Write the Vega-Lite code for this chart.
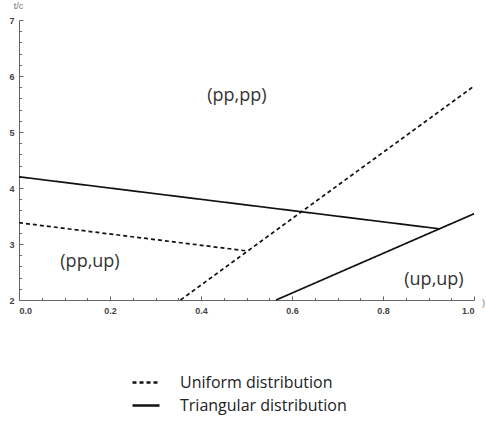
{
  "$schema": "https://vega.github.io/schema/vega-lite/v6.json",
  "width": 455,
  "height": 280,
  "autosize": {"type": "none"},
  "padding": {"left": 19, "top": 20, "right": 12, "bottom": 121},
  "background": "white",
  "config": {
    "view": {"stroke": null},
    "axis": {"grid": false, "domainColor": "#666", "tickColor": "#666", "labelColor": "#444", "labelFont": "Liberation Sans", "labelFontSize": 9, "labelFontWeight": "bold", "tickWidth": 1, "domainWidth": 1}
  },
  "datasets": {
    "curves": [
      {"series": "s1", "distribution": "Triangular distribution", "x": 0, "y": 4.2},
      {"series": "s1", "distribution": "Triangular distribution", "x": 0.925, "y": 3.27},
      {"series": "s2", "distribution": "Triangular distribution", "x": 0.565, "y": 2},
      {"series": "s2", "distribution": "Triangular distribution", "x": 1.0, "y": 3.54},
      {"series": "s3", "distribution": "Uniform distribution", "x": 0, "y": 3.38},
      {"series": "s3", "distribution": "Uniform distribution", "x": 0.497, "y": 2.88},
      {"series": "s4", "distribution": "Uniform distribution", "x": 0.355, "y": 2},
      {"series": "s4", "distribution": "Uniform distribution", "x": 1.0, "y": 5.82}
    ],
    "regions": [
      {"label": "(pp,pp)", "x": 0.479, "y": 5.64},
      {"label": "(pp,up)", "x": 0.156, "y": 2.68},
      {"label": "(up,up)", "x": 0.912, "y": 2.36}
    ]
  },
  "layer": [
    {
      "data": {"name": "curves"},
      "mark": {"type": "point", "opacity": 0},
      "encoding": {
        "x": {"field": "x", "type": "quantitative", "scale": {"domain": [0, 1], "nice": false, "zero": false},
          "axis": {"orient": "bottom", "values": [0.05, 0.1, 0.15, 0.25, 0.3, 0.35, 0.45, 0.5, 0.55, 0.65, 0.7, 0.75, 0.85, 0.9, 0.95], "labels": false, "domain": false, "tickSize": -2.5, "title": null}},
        "y": {"field": "y", "type": "quantitative", "scale": {"domain": [2, 7], "nice": false, "zero": false},
          "axis": {"orient": "left", "values": [2.2, 2.4, 2.6, 2.8, 3.2, 3.4, 3.6, 3.8, 4.2, 4.4, 4.6, 4.8, 5.2, 5.4, 5.6, 5.8, 6.2, 6.4, 6.6, 6.8], "labels": false, "domain": false, "tickSize": -2.5, "title": null}}
      }
    },
    {
      "data": {"name": "curves"},
      "mark": {"type": "line", "color": "#111", "strokeWidth": 1.7},
      "encoding": {
        "x": {"field": "x", "type": "quantitative",
          "axis": {"orient": "bottom", "values": [0, 0.2, 0.4, 0.6, 0.8, 1.0], "format": ".1f", "ticks": false, "domain": true, "labelPadding": 6,
            "title": ")", "titleX": 464, "titleY": 2, "titleBaseline": "middle", "titleAlign": "center", "titleFontSize": 9, "titleFontWeight": "normal", "titleColor": "#777", "titleFont": "Liberation Sans"}},
        "y": {"field": "y", "type": "quantitative",
          "axis": {"orient": "left", "values": [2, 3, 4, 5, 6, 7], "ticks": false, "domain": true, "labelPadding": 5,
            "title": "t/c", "titleAngle": 0, "titleX": -1, "titleY": -15, "titleBaseline": "middle", "titleAlign": "center", "titleFontSize": 9, "titleFontWeight": "normal", "titleColor": "#777", "titleFont": "Liberation Sans"}},
        "detail": {"field": "series"},
        "strokeDash": {"field": "distribution", "type": "nominal",
          "scale": {"domain": ["Uniform distribution", "Triangular distribution"], "range": [[4, 3], [1, 0]]},
          "legend": {"title": null, "orient": "none", "legendX": 115.5, "legendY": 351, "direction": "vertical",
            "symbolType": "M-1.35,0H1.35", "symbolSize": 400, "symbolStrokeWidth": 2.5, "symbolStrokeColor": "#111",
            "labelFont": "Open Sans", "labelFontSize": 16, "labelColor": "#222", "labelOffset": 22.5, "labelLimit": 400, "rowPadding": 3}}
      }
    },
    {
      "data": {"name": "regions"},
      "mark": {"type": "text", "font": "Open Sans", "fontSize": 18, "color": "#333", "align": "center", "baseline": "middle"},
      "encoding": {
        "x": {"field": "x", "type": "quantitative",
          "axis": {"orient": "bottom", "values": [0, 0.2, 0.4, 0.6, 0.8, 1.0], "labels": false, "domain": false, "tickSize": -4, "title": null}},
        "y": {"field": "y", "type": "quantitative",
          "axis": {"orient": "left", "values": [2, 3, 4, 5, 6, 7], "labels": false, "domain": false, "tickSize": -4, "title": null}},
        "text": {"field": "label"}
      }
    }
  ],
  "resolve": {"axis": {"x": "independent", "y": "independent"}}
}
